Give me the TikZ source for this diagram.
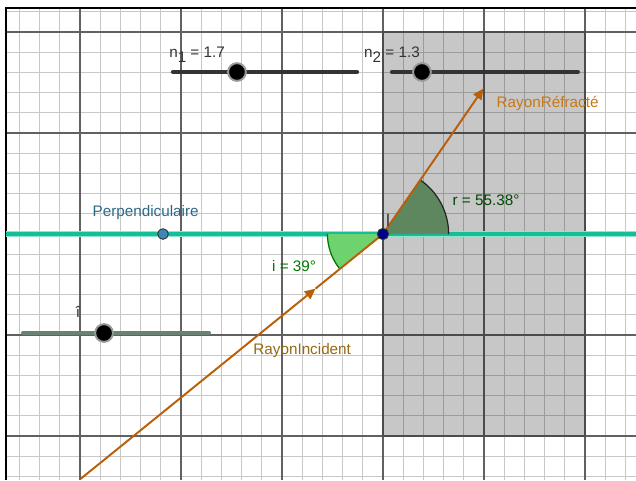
\documentclass[tikz,border=0pt]{standalone}
\usepackage{fontspec}
\setmainfont{Liberation Sans}
\usetikzlibrary{arrows.meta}

\definecolor{raybrown}{RGB}{185,95,10}
\definecolor{inclabel}{RGB}{150,105,20}
\definecolor{reflabel}{RGB}{200,120,20}
\definecolor{perpteal}{RGB}{20,190,150}
\definecolor{perphalo}{RGB}{140,230,205}
\definecolor{perptext}{RGB}{45,105,135}
\definecolor{perpdot}{RGB}{60,135,180}
\definecolor{ifill}{RGB}{110,210,110}
\definecolor{rfill}{RGB}{95,135,95}
\definecolor{anglegreen}{RGB}{0,120,0}
\definecolor{islider}{RGB}{105,130,115}

\begin{document}
\begin{tikzpicture}[x=2cm,y=2cm,font=\fontsize{8.6}{10}\selectfont,
  minor/.style={draw=black!22,line width=0.5pt},
  major/.style={draw=black!62,line width=0.6pt},
  ray/.style={draw=raybrown,line width=1.1pt},
  tip/.style={-{Triangle[length=6pt,width=5.5pt]}},
  sliderbar/.style={line width=2.3pt,line cap=round},
  knob/.style={circle,fill=black,draw=black!40,line width=1.1pt,inner sep=0pt,minimum size=10pt},
  dot/.style={circle,draw=black!80,line width=0.5pt,inner sep=0pt,minimum size=6pt},
]

% ---------- frame (measured from source: 1 unit = one major square, origin = I) ----------
\useasboundingbox (-3.792,-2.436) rectangle (2.505,2.317);
\coordinate (Ic) at (0,0);

% ---------- grid ----------
\draw[minor,step=0.2] (-3.733,-2.436) grid (2.505,2.238);
\draw[major,step=1] (-3.733,-2.436) grid (2.505,2.238);
\draw[line width=1.1pt] (-3.733,-2.436) -- (-3.733,2.238) -- (2.505,2.238);

% ---------- second medium ----------
\fill[black,fill opacity=0.22] (0,-2) rectangle (2,2);
\draw[black!70,line width=0.9pt] (0,-2) rectangle (2,2);

% ---------- sliders ----------
\coordinate (n1a) at (-2.08,1.604);
\coordinate (n1b) at (-0.257,1.604);
\coordinate (n2a) at (0.089,1.604);
\coordinate (n2b) at (1.93,1.604);
\coordinate (ia) at (-3.564,-0.98);
\coordinate (ib) at (-1.723,-0.98);
\draw[sliderbar,black!80] (n1a) -- (n1b);
\draw[sliderbar,black!80] (n2a) -- (n2b);
\draw[sliderbar,islider] (ia) -- (ib);
\node[knob] (kn1) at (-1.446,1.604) {};
\node[knob] (kn2) at (0.386,1.604) {};
\node[knob] (kni) at (-2.762,-0.98) {};
\node[anchor=base west,black!80] (lbln1) at (-2.178,1.75) {n\raisebox{-0.7ex}{1} = 1.7};
\node[anchor=base west,black!80] (lbln2) at (-0.248,1.75) {n\raisebox{-0.7ex}{2} = 1.3};
\node[anchor=base,black!80] (lbli) at (-3.02,-0.83) {î};

% ---------- perpendicular ----------
\draw[perphalo,line width=3.8pt] (-3.733,0) -- (2.505,0);
\draw[perpteal,line width=2.2pt] (-3.733,0) -- (2.505,0);
\node[dot,fill=perpdot] (perp) at (-2.178,0) {};
\node[anchor=base,perptext] (lblperp) at (-2.35,0.17) {Perpendiculaire};

% ---------- angles ----------
\fill[ifill] (Ic) -- (180:0.55) arc[start angle=180,end angle=219,radius=0.55] -- cycle;
\draw[anglegreen,line width=0.7pt] (180:0.55) arc[start angle=180,end angle=219,radius=0.55];
\fill[rfill] (Ic) -- (0:0.65) arc[start angle=0,end angle=55.38,radius=0.65] -- cycle;
\draw[black!85,line width=0.7pt] (0:0.65) arc[start angle=0,end angle=55.38,radius=0.65];
\node[anchor=base,anglegreen] (lbli2) at (-0.88,-0.376) {i = 39°};
\node[anchor=base,anglegreen!60!black] (lblr) at (1.02,0.287) {r = 55.38°};

% ---------- rays ----------
\coordinate (inc) at (219:3.85);
\coordinate (iarr) at (219:0.86);
\coordinate (rend) at (55.38:1.75);
\draw[ray,tip] (inc) -- (iarr);
\draw[ray] (iarr) -- (Ic);
\draw[ray,tip] (Ic) -- (rend);
\node[anchor=base,inclabel] (lblinc) at (-0.80,-1.19) {RayonIncident};
\node[anchor=base,reflabel] (lblref) at (1.63,1.25) {RayonRéfracté};

% ---------- point of incidence ----------
\node[dot,fill=blue!55!black,minimum size=6.4pt] (I) at (Ic) {};
\node[anchor=base,black!75,font=\fontsize{10}{11}\selectfont] (lblI) at (0.05,0.07) {I};

\end{tikzpicture}
\end{document}
